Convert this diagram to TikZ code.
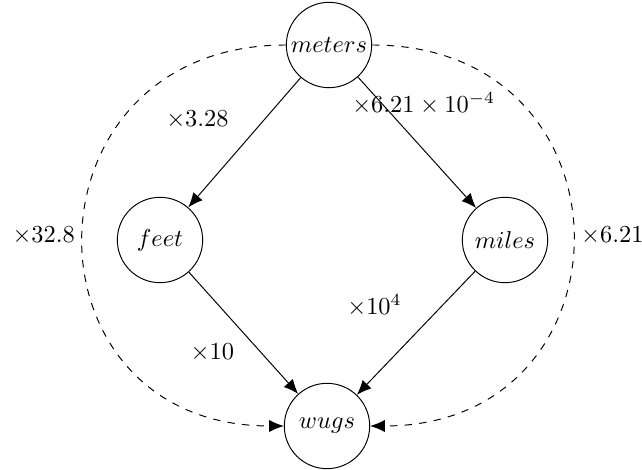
\documentclass[tikz,border=0pt]{standalone}
\usepackage{amsmath,amssymb}
\usepackage{tikz}
\usetikzlibrary{arrows.meta}

\begin{document}
\begin{tikzpicture}[
        x=0.41pt,
        y=-0.41pt,
        unit/.style={draw, circle, minimum size=35pt, inner sep=0pt},
        conv/.style={line width=0.4pt, -{Latex[length=6pt,width=5pt]}},
        via/.style={conv, dashed, looseness=1.8}
    ]
        \useasboundingbox (0,0) rectangle (642,470);
        \foreach \nm/\x/\y in {meters/329/45,feet/160/240,miles/505/240,wugs/327/426}{
            \node[unit] (\nm) at (\x,\y) {$\nm$};
        }
        \draw[conv] (meters) -- node[pos=0.55, xshift=-17pt, yshift=12pt] {$\times 3.28$} (feet);
        \draw[conv] (meters) -- node[pos=0.36, xshift=9.5pt, yshift=8.5pt] {$\times 6.21 \times 10^{-4}$} (miles);
        \draw[conv] (feet) -- node[pos=0.46, xshift=-11pt, yshift=-10pt] {$\times 10$} (wugs);
        \draw[conv] (miles) -- node[pos=0.55, xshift=-14.6pt, yshift=13.8pt] {$\times 10^4$} (wugs);

        \draw[via] (meters.west) to[out=180, in=180] node[left] {$\times 32.8$} (wugs.west);
        \draw[via] (meters.east) to[out=0, in=0] node[right] {$\times 6.21$} (wugs.east);
\end{tikzpicture}
\end{document}
